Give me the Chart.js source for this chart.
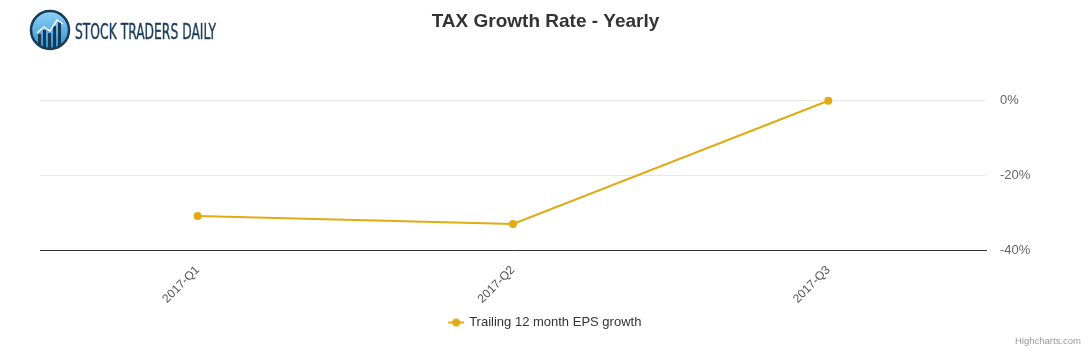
<!DOCTYPE html>
<html>
<head>
<meta charset="utf-8">
<script src="https://cdn.jsdelivr.net/npm/chart.js@4"></script>
<style>
  html, body { margin: 0; padding: 0; background: #fff; }
  #wrap { position: relative; width: 1091px; height: 350px; }
  #logo { position: absolute; left: 28px; top: 8px; }
</style>
</head>
<body>
<div id="wrap">
  <canvas id="growthChart" width="1091" height="350"></canvas>
  <svg id="logo" width="200" height="46" viewBox="0 0 200 46">
    <defs>
      <linearGradient id="lg" x1="0" y1="0" x2="0" y2="1">
        <stop offset="0" stop-color="#8fd3f7"/>
        <stop offset="1" stop-color="#2f8fd0"/>
      </linearGradient>
    </defs>
    <circle cx="22" cy="22" r="19" fill="url(#lg)" stroke="#173a57" stroke-width="2.5"/>
    <rect x="10" y="26" width="3" height="12" fill="#173a57"/>
    <rect x="15" y="22" width="3" height="17" fill="#173a57"/>
    <rect x="20" y="25" width="3" height="15" fill="#173a57"/>
    <rect x="25" y="18" width="3" height="22" fill="#173a57"/>
    <rect x="30" y="14" width="3" height="24" fill="#173a57"/>
    <polyline points="9,25 16,19 22,23 29,12 35,16" fill="none" stroke="#fff" stroke-width="1.5"/>
    <text x="47" y="30.5" fill="#1b3d5c" font-family="'Liberation Sans Narrow','DejaVu Sans Condensed',sans-serif"
          font-size="21" textLength="141" lengthAdjust="spacingAndGlyphs" stroke="#1b3d5c" stroke-width="0.4">STOCK TRADERS DAILY</text>
  </svg>
</div>
<script>
/* ================= DATA ================= */
const quarters = ["2017-Q1", "2017-Q2", "2017-Q3"];
const epsGrowth = [-30.9, -33.0, 0];
const yTicks = [-40, -20, 0];

const lineColor = "#e2aa13";

/* legend symbol: short line with a dot, like the original */
const legendIcon = document.createElement("canvas");
legendIcon.width = 18;
legendIcon.height = 10;
{
  const c = legendIcon.getContext("2d");
  c.strokeStyle = lineColor;
  c.lineWidth = 2;
  c.beginPath();
  c.moveTo(1, 5);
  c.lineTo(17, 5);
  c.stroke();
  c.fillStyle = lineColor;
  c.beginPath();
  c.arc(9, 5, 4, 0, Math.PI * 2);
  c.fill();
}

/* credits text */
const credits = {
  id: "credits",
  afterDraw(chart) {
    const ctx = chart.ctx;
    ctx.save();
    ctx.font = "9.5px 'Liberation Sans', Arial, sans-serif";
    ctx.fillStyle = "#999999";
    ctx.textAlign = "right";
    ctx.textBaseline = "middle";
    ctx.fillText("Highcharts.com", 1081, 341);
    ctx.restore();
  }
};

new Chart(document.getElementById("growthChart"), {
  type: "line",
  data: {
    labels: quarters,
    datasets: [{
      label: "Trailing 12 month EPS growth",
      data: epsGrowth,
      borderColor: lineColor,
      backgroundColor: lineColor,
      borderWidth: 2,
      pointRadius: 4,
      pointHoverRadius: 5,
      pointBackgroundColor: lineColor,
      pointBorderWidth: 0,
      tension: 0,
      clip: false
    }]
  },
  options: {
    responsive: false,
    animation: false,
    layout: { padding: { left: 40, right: 40, top: 0, bottom: 11 } },
    plugins: {
      title: {
        display: true,
        text: "TAX Growth Rate - Yearly",
        color: "#333333",
        font: { family: "'Liberation Sans', Arial, sans-serif", size: 19, weight: "bold" },
        padding: { top: 10, bottom: 68 }
      },
      legend: {
        position: "bottom",
        labels: {
          usePointStyle: true,
          color: "#333333",
          font: { family: "'Liberation Sans', Arial, sans-serif", size: 13 },
          padding: 10,
          generateLabels(chart) {
            const ds = chart.data.datasets[0];
            return [{
              text: ds.label,
              fillStyle: lineColor,
              strokeStyle: lineColor,
              fontColor: "#333333",
              pointStyle: legendIcon,
              datasetIndex: 0
            }];
          }
        }
      },
      tooltip: { enabled: false }
    },
    scales: {
      x: {
        offset: true,
        grid: { display: false, drawTicks: false },
        border: { display: true, color: "#333333", width: 1 },
        ticks: {
          color: "#555555",
          font: { family: "'Liberation Sans', Arial, sans-serif", size: 12 },
          minRotation: 45,
          maxRotation: 45,
          padding: 13
        },
        afterFit(scale) { scale.height = 56; }
      },
      y: {
        position: "right",
        min: -40,
        max: 0,
        grid: { color: "#e6e6e6", drawTicks: false },
        border: { display: false },
        afterBuildTicks(scale) { scale.ticks = yTicks.map(v => ({ value: v })); },
        ticks: {
          color: "#666666",
          font: { family: "'Liberation Sans', Arial, sans-serif", size: 13 },
          padding: 14,
          callback: v => v + "%"
        },
        afterFit(scale) { scale.width = 65; }
      }
    }
  },
  plugins: [credits]
});
</script>
</body>
</html>
